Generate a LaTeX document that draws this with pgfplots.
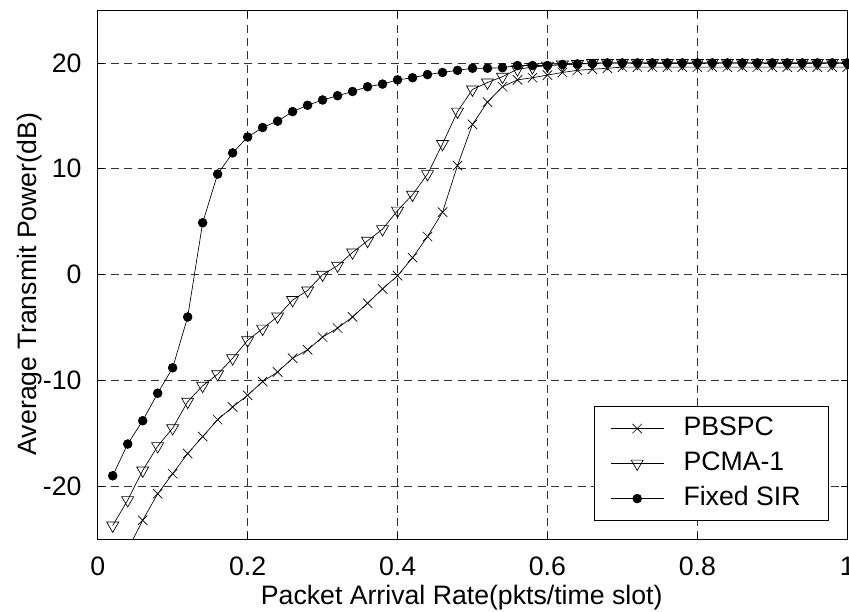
\documentclass[border=0pt]{standalone}
\usepackage{pgfplots}
\pgfplotsset{compat=1.18}
\usepackage{fontspec}
\setmainfont{Liberation Sans}
\newcommand{\lblfont}{\fontsize{20}{24}\selectfont}
\begin{document}
\begin{tikzpicture}
\begin{axis}[
  name=ax,
  scale only axis,
  width=562.2pt, height=397pt,
  xmin=0, xmax=1, ymin=-25, ymax=25,
  xtick={0,0.2,0.4,0.6,0.8,1},
  ytick={-20,-10,0,10,20},
  /pgf/number format/assume math mode=true,
  tick label style={font=\lblfont},
  label style={font=\lblfont},
  xticklabel style={anchor=base, inner sep=0pt, yshift=-26.8pt},
  yticklabel style={anchor=east, inner sep=0pt, xshift=-12pt},
  grid=major,
  major grid style={dash pattern=on 6pt off 4pt, line width=0.5pt, black!80},
  tick align=inside,
  major tick length=5pt,
  every tick/.style={black, line width=0.5pt},
  axis line style={line width=0.6pt},
  xlabel={Packet Arrival Rate(pkts/time slot)},
  ylabel={Average Transmit Power(dB)},
  xlabel style={at={(axis description cs:0.4856,-0.1237)}, anchor=base, inner sep=0pt},
  ylabel style={at={(axis description cs:-0.0823,0.482)}, anchor=base, rotate=0, inner sep=0pt},
  legend image code/.code={\draw[mark repeat=2, mark phase=2, #1] plot coordinates {(0pt,0pt) (20pt,0pt) (40pt,0pt)};},
  legend cell align=left,
  legend style={at={(0.9756,0.0346)}, anchor=south east, draw=black, line width=0.6pt, fill=white,
    font=\lblfont, inner xsep=12.2pt, inner ysep=6.5pt, row sep=6.25pt, column sep=14.5pt,
    nodes={inner sep=0pt, text height=15pt, text depth=5pt}},
]
\addplot[black, line width=0.5pt, mark=x, mark size=5pt, mark options={solid, line width=0.5pt}] coordinates {
(0.02,-28.5) (0.04,-26) (0.06,-23.2) (0.08,-20.7) (0.10,-18.8) (0.12,-16.9) (0.14,-15.3) (0.16,-13.7)
(0.18,-12.5) (0.20,-11.4) (0.22,-10.1) (0.24,-9.2) (0.26,-7.9) (0.28,-7.1) (0.30,-5.9) (0.32,-5.05)
(0.34,-4.0) (0.36,-2.7) (0.38,-1.35) (0.40,-0.1) (0.42,1.6) (0.44,3.6) (0.46,5.9) (0.48,10.3)
(0.50,14.2) (0.52,16.3) (0.54,17.75) (0.56,18.4) (0.58,18.6) (0.60,18.85) (0.62,19.1) (0.64,19.3)
(0.66,19.4) (0.68,19.5) (0.70,19.6) (0.72,19.6) (0.74,19.6) (0.76,19.6) (0.78,19.6) (0.80,19.6)
(0.82,19.6) (0.84,19.6) (0.86,19.6) (0.88,19.6) (0.90,19.6) (0.92,19.6) (0.94,19.6) (0.96,19.6)
(0.98,19.6) (1.00,19.6)
};
\addlegendentry{PBSPC}
\addplot[black, line width=0.5pt, mark=triangle, mark size=5.2pt, mark options={solid, line width=0.5pt, rotate=180}] coordinates {
(0.02,-23.7) (0.04,-21.3) (0.06,-18.5) (0.08,-16.2) (0.10,-14.5) (0.12,-12.0) (0.14,-10.5) (0.16,-9.4)
(0.18,-7.9) (0.20,-6.2) (0.22,-5.1) (0.24,-3.95) (0.26,-2.4) (0.28,-1.5) (0.30,0.0) (0.32,0.85)
(0.34,2.1) (0.36,3.2) (0.38,4.3) (0.40,6.05) (0.42,7.55) (0.44,9.5) (0.46,12.35) (0.48,15.4)
(0.50,17.5) (0.52,18.15) (0.54,18.7) (0.56,19.4) (0.58,19.6) (0.60,19.75) (0.62,19.85) (0.64,19.9)
(0.66,20.0) (0.68,20.0) (0.70,20.0) (0.72,20.0) (0.74,20.0) (0.76,20.0) (0.78,20.0) (0.80,20.0)
(0.82,20.0) (0.84,20.0) (0.86,20.0) (0.88,20.0) (0.90,20.0) (0.92,20.0) (0.94,20.0) (0.96,20.0)
(0.98,20.0) (1.00,20.0)
};
\addlegendentry{PCMA-1}
\addplot[black, line width=0.5pt, mark=*, mark size=3.3pt, mark options={solid}] coordinates {
(0.02,-19.0) (0.04,-16.0) (0.06,-13.8) (0.08,-11.2) (0.10,-8.8) (0.12,-4.0) (0.14,4.9) (0.16,9.5)
(0.18,11.5) (0.20,13.0) (0.22,13.9) (0.24,14.5) (0.26,15.4) (0.28,16.0) (0.30,16.5) (0.32,16.9)
(0.34,17.3) (0.36,17.75) (0.38,18.0) (0.40,18.4) (0.42,18.6) (0.44,18.9) (0.46,19.1) (0.48,19.3)
(0.50,19.5) (0.52,19.5) (0.54,19.55) (0.56,19.75) (0.58,19.75) (0.60,19.75) (0.62,19.85) (0.64,19.9)
(0.66,19.95) (0.68,20.0) (0.70,20.0) (0.72,20.0) (0.74,20.0) (0.76,20.0) (0.78,20.0) (0.80,20.0)
(0.82,20.0) (0.84,20.0) (0.86,20.0) (0.88,20.0) (0.90,20.0) (0.92,20.0) (0.94,20.0) (0.96,20.0)
(0.98,20.0) (1.00,20.0)
};
\addlegendentry{Fixed SIR\hspace*{8.8pt}}
\end{axis}
\pgfresetboundingbox
\path[use as bounding box] ([xshift=-73.3pt,yshift=-54.5pt]ax.south west) rectangle ([xshift=1.3pt,yshift=7.5pt]ax.north east);
\end{tikzpicture}
\end{document}
